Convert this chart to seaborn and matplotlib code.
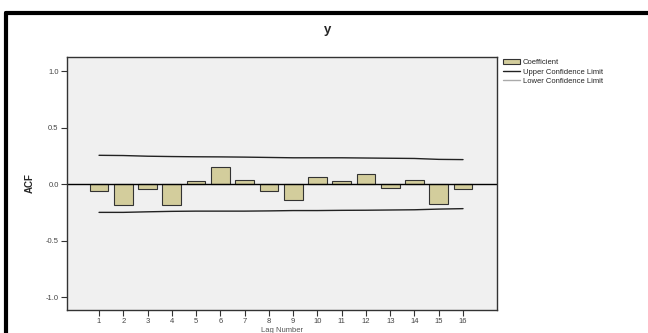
import numpy as np
import pandas as pd
import seaborn as sns
import matplotlib.pyplot as plt
from matplotlib.lines import Line2D
from matplotlib.patches import Patch

# ACF values
lags = list(range(1, 17))
acf = [-0.059, -0.183, -0.047, -0.189, 0.027, 0.150, 0.035, -0.062,
       -0.142, 0.059, 0.027, 0.091, -0.035, 0.035, -0.174, -0.041]
upper = [0.254, 0.252, 0.246, 0.243, 0.241, 0.240, 0.238, 0.235,
         0.232, 0.232, 0.232, 0.230, 0.228, 0.226, 0.218, 0.216]
lower = [-0.251, -0.251, -0.246, -0.242, -0.240, -0.240, -0.240, -0.238,
         -0.235, -0.235, -0.233, -0.232, -0.230, -0.228, -0.222, -0.218]
yticks = [-1.0, -0.5, 0.0, 0.5, 1.0]

df = pd.DataFrame({"lag": lags, "acf": acf, "upper": upper, "lower": lower})

sns.set_theme(style="white")
plt.rcParams['font.family'] = ['Liberation Sans', 'DejaVu Sans']

fig = plt.figure(figsize=(6.48, 3.33), dpi=100)
ax = fig.add_axes([67 / 648, 1 - 310 / 333, 430 / 648, 253 / 333])
ax.set_facecolor("#f0f0f0")

sns.barplot(data=df, x="lag", y="acf", native_scale=True, width=0.77,
            color="#d3cd9c", edgecolor="#333333", linewidth=0.8,
            saturation=1, ax=ax)
sns.lineplot(data=df, x="lag", y="upper", color="#222222", linewidth=1.0, ax=ax)
sns.lineplot(data=df, x="lag", y="lower", color="#222222", linewidth=1.0, ax=ax)
ax.axhline(0, color="black", linewidth=1.0)

ax.set_xlim(-0.32, 17.4)
ax.set_ylim(-1.115, 1.124)
ax.set_xticks(lags)
ax.set_xticklabels([str(l) for l in lags], fontsize=5.5, color="#444444")
ax.set_yticks(yticks)
ax.set_yticklabels([f"{v:.1f}" for v in yticks], fontsize=5.5, color="#444444")
ax.tick_params(axis="both", direction="out", length=4, width=0.8,
               color="#333333", pad=2, bottom=True, left=True)
for s in ax.spines.values():
    s.set_color("#333333")
    s.set_linewidth(1.0)

ax.set_xlabel("Lag Number", fontsize=5.5, color="#555555", labelpad=1)
ax.set_ylabel("ACF", fontsize=7, fontweight="bold", labelpad=8)
fig.text(328 / 648, 1 - 30 / 333, "y", ha="center", va="center",
         fontsize=9.5, fontweight="bold")

handles = [Patch(facecolor="#d3cd9c", edgecolor="#333333", linewidth=0.8),
           Line2D([], [], color="#222222", linewidth=1.0),
           Line2D([], [], color="#aaaaaa", linewidth=1.0)]
labels = ["Coefficient", "Upper Confidence Limit", "Lower Confidence Limit"]
fig.legend(handles, labels, loc="upper left",
           bbox_to_anchor=(500 / 648, 1 - 56 / 333), frameon=False,
           fontsize=5.5, handlelength=2.2, handletextpad=0.4,
           labelspacing=0.25, borderaxespad=0)

# thick frame of the output window
fig.add_artist(Line2D([6 / 648, 1], [1 - 13 / 333, 1 - 13 / 333],
                      color="black", linewidth=3, transform=fig.transFigure))
fig.add_artist(Line2D([6 / 648, 6 / 648], [0, 1 - 13 / 333],
                      color="black", linewidth=3, transform=fig.transFigure))

fig.savefig("out.png", dpi=100)
